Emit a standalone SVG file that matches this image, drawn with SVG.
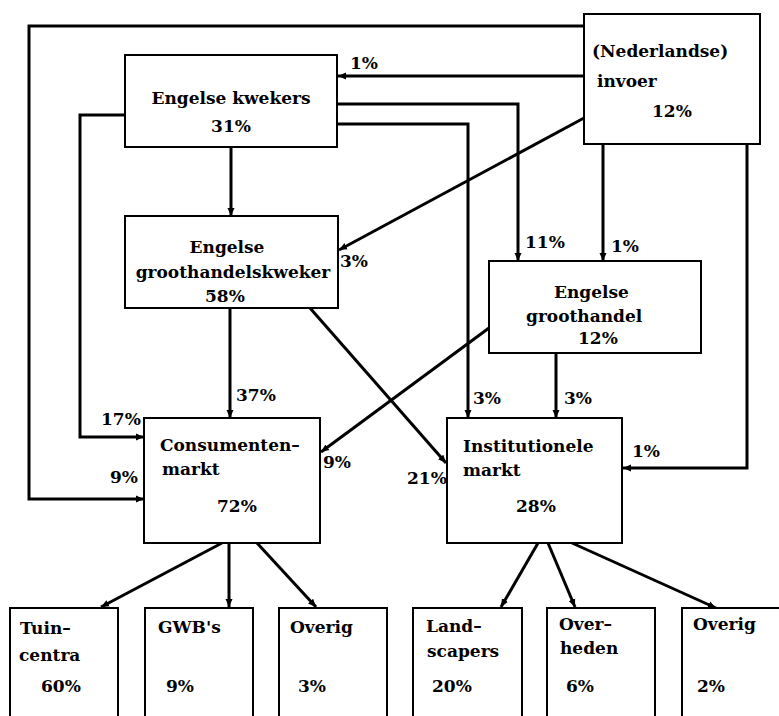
<svg xmlns="http://www.w3.org/2000/svg" width="779" height="716" viewBox="0 0 779 716">
<style>
.box{fill:#fff;stroke:#000;stroke-width:2}
.c{fill:none;stroke:#000;stroke-width:3;marker-end:url(#ah)}
text{font-family:"DejaVu Serif","Liberation Serif",serif;font-weight:bold;font-size:17px;fill:#000}
.m{text-anchor:middle}
</style>
<defs>
<marker id="ah" markerUnits="userSpaceOnUse" markerWidth="9" markerHeight="8" refX="8" refY="4" orient="auto">
<path d="M0,0.5 L8,4 L0,7.5 z" fill="#000"/>
</marker>
</defs>
<rect width="779" height="716" fill="#fff"/>
<g id="connectors">
<path class="c" d="M584 26 H29 V499 H144"/>
<path class="c" d="M584 76 H338"/>
<path class="c" d="M337 104 H518 V261"/>
<path class="c" d="M337 124 H468 V418"/>
<path class="c" d="M125 115 H80 V437 H144"/>
<path class="c" d="M231 147 V216"/>
<path class="c" d="M584 118 L339 250"/>
<path class="c" d="M603 144 V261"/>
<path class="c" d="M747 144 V468 H623"/>
<path class="c" d="M230 308 V418"/>
<path class="c" d="M310 308 L446 463"/>
<path class="c" d="M489 328 L321 452"/>
<path class="c" d="M556 353 V418"/>
<path class="c" d="M222 543 L101 607"/>
<path class="c" d="M229 543 V607"/>
<path class="c" d="M257 543 L316 607"/>
<path class="c" d="M538 543 L501 607"/>
<path class="c" d="M548 543 L575 607"/>
<path class="c" d="M572 543 L716 608"/>
</g>
<g id="kwekers">
<rect class="box" x="125" y="55" width="212" height="92"/>
<text class="m" x="231" y="104">Engelse kwekers</text>
<text class="m" x="231" y="132">31%</text>
</g>
<g id="invoer">
<rect class="box" x="584" y="14" width="176" height="130"/>
<text x="592" y="57">(Nederlandse)</text>
<text x="597" y="87">invoer</text>
<text x="652" y="117">12%</text>
</g>
<g id="groothandelskweker">
<rect class="box" x="125" y="216" width="213" height="92"/>
<text class="m" x="227" y="253">Engelse</text>
<text class="m" x="233" y="278">groothandelskweker</text>
<text x="205" y="302">58%</text>
</g>
<g id="groothandel">
<rect class="box" x="489" y="261" width="212" height="92"/>
<text x="554" y="298">Engelse</text>
<text x="526" y="322">groothandel</text>
<text x="578" y="344">12%</text>
</g>
<g id="consumentenmarkt">
<rect class="box" x="144" y="418" width="176" height="125"/>
<text x="160" y="451">Consumenten–</text>
<text x="162" y="475">markt</text>
<text x="217" y="512">72%</text>
</g>
<g id="institutionelemarkt">
<rect class="box" x="447" y="418" width="175" height="125"/>
<text x="463" y="452">Institutionele</text>
<text x="463" y="476">markt</text>
<text x="516" y="512">28%</text>
</g>
<g id="tuincentra">
<rect class="box" x="10" y="608" width="108" height="120"/>
<text x="20" y="634">Tuin–</text>
<text x="19" y="661">centra</text>
<text x="41" y="692">60%</text>
</g>
<g id="gwbs">
<rect class="box" x="145" y="608" width="108" height="120"/>
<text x="158" y="633">GWB's</text>
<text x="166" y="692">9%</text>
</g>
<g id="overig1">
<rect class="box" x="279" y="608" width="108" height="120"/>
<text x="290" y="633">Overig</text>
<text x="298" y="692">3%</text>
</g>
<g id="landscapers">
<rect class="box" x="413" y="608" width="109" height="120"/>
<text x="426" y="632">Land–</text>
<text x="427" y="657">scapers</text>
<text x="432" y="692">20%</text>
</g>
<g id="overheden">
<rect class="box" x="547" y="608" width="108" height="120"/>
<text x="559" y="630">Over–</text>
<text x="560" y="654">heden</text>
<text x="566" y="692">6%</text>
</g>
<g id="overig2">
<rect class="box" x="682" y="608" width="120" height="120"/>
<text x="693" y="630">Overig</text>
<text x="697" y="692">2%</text>
</g>
<g id="labels">
<text x="350" y="69">1%</text>
<text x="525" y="248">11%</text>
<text x="611" y="252">1%</text>
<text x="340" y="267">3%</text>
<text x="236" y="401">37%</text>
<text x="473" y="404">3%</text>
<text x="564" y="404">3%</text>
<text x="101" y="425">17%</text>
<text x="110" y="483">9%</text>
<text x="323" y="468">9%</text>
<text x="632" y="457">1%</text>
<text x="407" y="484">21%</text>
</g>
</svg>
